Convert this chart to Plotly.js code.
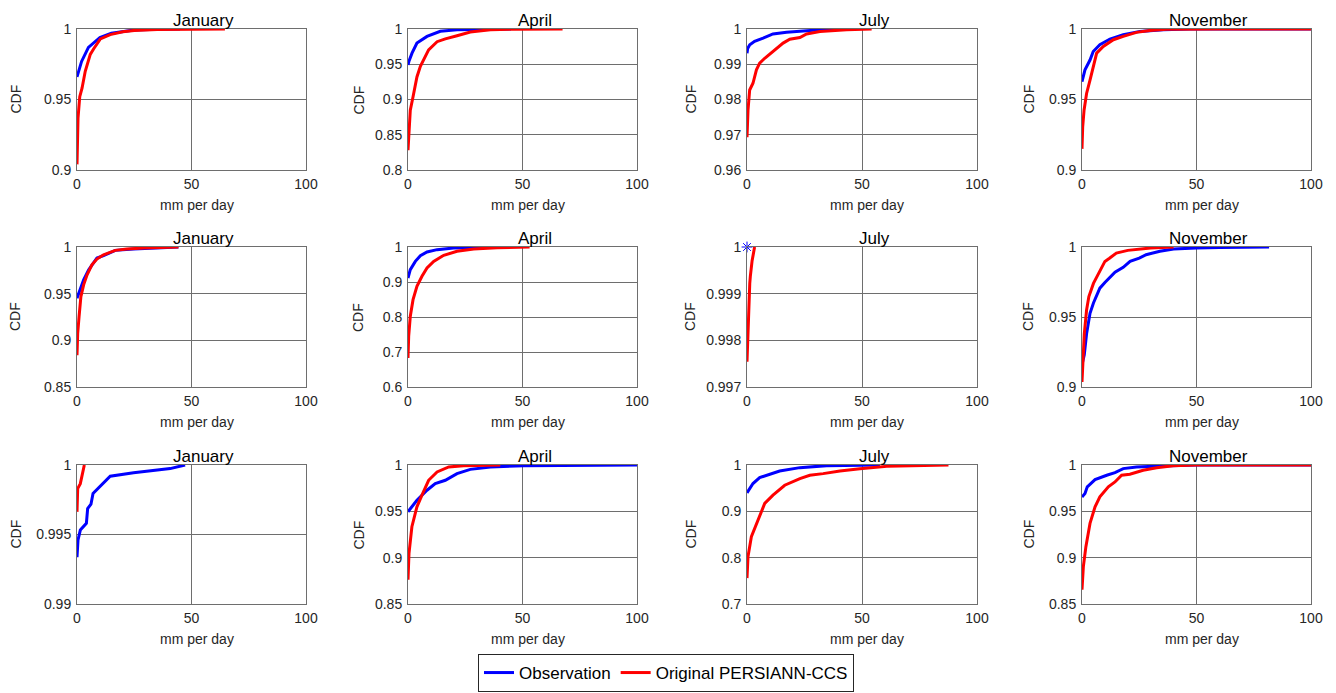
<!DOCTYPE html>
<html>
<head>
<meta charset="utf-8">
<script src="https://cdn.plot.ly/plotly-3.0.1.min.js"></script>
<style>html,body{margin:0;padding:0;background:#fff;}#chart{width:1336px;height:693px;}</style>
</head>
<body>
<div id="chart"></div>
<script>
// ---- data ----
const months = ["January", "April", "July", "November"];
const seriesNames = ["Observation", "Original PERSIANN-CCS"];
const xAxisLabel = "mm per day";
const yAxisLabel = "CDF";
const xTickVals = [0, 50, 100];

// Row 1
const r1JanObsX = [0,0.5,2,5,10,15,20,25,35,45];
const r1JanObsY = [0.966,0.969,0.977,0.987,0.994,0.997,0.998,0.9993,0.9998,1];
const r1JanSatX = [0,0.2,0.45,1.2,2.2,3.6,5.8,7.3,10.2,14.5,20,25,35,50,64.6];
const r1JanSatY = [0.904,0.92,0.937,0.952,0.958,0.97,0.982,0.986,0.993,0.996,0.998,0.999,0.9997,0.9999,1];

const r1AprObsX = [0,0.5,1.75,3.9,8.3,14.1,21.4,30,45];
const r1AprObsY = [0.949,0.955,0.9657,0.98,0.9895,0.9967,0.999,0.9997,1];
const r1AprSatX = [0,0.44,1,2.2,3.9,5.4,6.8,9,12.7,16.3,21.4,27.2,36,46,67.5];
const r1AprSatY = [0.828,0.856,0.885,0.904,0.932,0.947,0.956,0.9705,0.982,0.986,0.9905,0.9957,0.999,0.9998,1];

const r1JulObsX = [0,0.3,1.2,3.3,7,11.3,17.2,25.9,34.6,47];
const r1JulObsY = [0.9931,0.9945,0.9955,0.9965,0.9974,0.9986,0.9991,0.9996,0.9999,1];
const r1JulSatX = [0,0.44,1.16,2.6,4.1,5.5,7.7,11.3,15.7,18.6,23,25.9,31.7,43.3,54.2];
const r1JulSatY = [0.9693,0.977,0.9827,0.9846,0.9884,0.9903,0.9917,0.9936,0.996,0.9971,0.9976,0.9986,0.9993,0.9998,1];

const r1NovObsX = [0,1.3,3.5,4.9,7.8,12.2,18,25.3,35.5,47,100];
const r1NovObsY = [0.9626,0.971,0.978,0.984,0.9888,0.9929,0.996,0.9983,0.9995,1,1];
const r1NovSatX = [0,0.3,0.9,2,3.5,4.9,6.4,9.3,13.7,18,23.8,29.7,36.9,60,100];
const r1NovSatY = [0.915,0.9305,0.9424,0.9543,0.9638,0.9733,0.9829,0.9876,0.9924,0.9948,0.9976,0.999,0.9998,1,1];

// Row 2
const r2JanObsX = [0,1.45,2.9,5.1,8.7,11.6,16.7,24.7,32,44.3];
const r2JanObsY = [0.9451,0.9559,0.9648,0.9756,0.9882,0.9907,0.9964,0.9978,0.9989,1];
const r2JanSatX = [0,0.3,0.9,1.7,2.9,4.4,6.5,8.7,11.6,16.7,21.8,29,44.3];
const r2JanSatY = [0.8841,0.9074,0.9254,0.9469,0.9595,0.9702,0.981,0.9871,0.9917,0.9964,0.9978,0.9989,1];

const r2AprObsX = [0,1,3.2,5.4,8.3,12.7,19.9,31.6,41.8];
const r2AprObsY = [0.9114,0.9352,0.959,0.9752,0.9857,0.9924,0.9971,0.999,1];
const r2AprSatX = [0,0.3,1,2.2,3.9,6.1,8.3,11.2,15.6,21.4,28.7,38.9,53.1];
const r2AprSatY = [0.683,0.745,0.802,0.8495,0.8876,0.9162,0.94,0.959,0.9762,0.9876,0.9943,0.9981,1];

const r2JulObsX = [0];
const r2JulObsY = [1];
const r2JulSatX = [0,0.3,0.6,1.2,1.45,2.2,3.3];
const r2JulSatY = [0.99754,0.9981,0.99843,0.99922,0.99937,0.9997,1];

const r2NovObsX = [0,1,2,3.5,5,6.5,7.8,10,12,14.4,18,21,25,28,34,40,50,60,81.7];
const r2NovObsY = [0.916,0.923,0.938,0.9526,0.96,0.966,0.9706,0.9746,0.978,0.982,0.9855,0.9897,0.992,0.9945,0.997,0.9986,0.9993,0.9997,1];
const r2NovSatX = [0,1,2,3,5,7,10,12,15,20,30,40];
const r2NovSatY = [0.9036,0.938,0.955,0.9646,0.974,0.98,0.9897,0.992,0.9957,0.9976,0.9993,1];

// Row 3
const r3JanObsX = [0,0.44,1.45,4.1,4.65,6.1,7,8.7,14.5,24.7,40.7,47.2];
const r3JanObsY = [0.99337,0.99461,0.99532,0.9958,0.99687,0.99718,0.99795,0.99823,0.99919,0.99945,0.99974,1];
const r3JanSatX = [0,0.3,1.45,3.2];
const r3JanSatY = [0.99663,0.9983,0.99866,1];

const r3AprObsX = [0,3.9,8.3,11.9,16.3,21.4,27.2,36,50.5,100];
const r3AprObsY = [0.9495,0.962,0.9728,0.98,0.9835,0.9907,0.9953,0.9979,0.9993,1];
const r3AprSatX = [0,0.44,1.7,3.9,6.1,9,12.7,17.8,24.3,40.3];
const r3AprSatY = [0.8761,0.9048,0.9334,0.9549,0.9674,0.9835,0.9925,0.9979,0.9993,1];

const r3JulObsX = [0,2.6,5.5,9.9,14.2,23,34.6,57.8];
const r3JulObsY = [0.9399,0.96,0.9728,0.9792,0.9871,0.9943,0.9986,1];
const r3JulSatX = [0,0.44,1.9,4.1,7.7,11.3,16.4,23,27.3,33.1,40.4,49.1,60.8,87.6];
const r3JulSatY = [0.7559,0.8024,0.8454,0.874,0.917,0.9348,0.9563,0.9706,0.9778,0.9814,0.9871,0.9921,0.9971,1];

const r3NovObsX = [0,1.3,2.3,5.7,10.8,14.4,18,23.8,38.4,50,100];
const r3NovObsY = [0.9656,0.9692,0.9764,0.9842,0.9889,0.9918,0.9961,0.9979,0.9993,1,1];
const r3NovSatX = [0,0.6,1.7,3.5,5.7,7.8,11.5,14.4,17.3,20.9,26.7,32.6,39.8,50,100];
const r3NovSatY = [0.8654,0.8905,0.9119,0.937,0.9549,0.9656,0.9764,0.9817,0.9889,0.99,0.9943,0.9971,0.9993,1,1];

// y-axis ranges and tick steps per panel
const yMins = [0.9, 0.8, 0.96, 0.9, 0.85, 0.6, 0.997, 0.9, 0.99, 0.85, 0.7, 0.85];
const yTickSteps = [0.05, 0.05, 0.01, 0.05, 0.05, 0.1, 0.001, 0.05, 0.005, 0.05, 0.1, 0.05];

const panels = [
  [r1JanObsX, r1JanObsY, r1JanSatX, r1JanSatY],
  [r1AprObsX, r1AprObsY, r1AprSatX, r1AprSatY],
  [r1JulObsX, r1JulObsY, r1JulSatX, r1JulSatY],
  [r1NovObsX, r1NovObsY, r1NovSatX, r1NovSatY],
  [r2JanObsX, r2JanObsY, r2JanSatX, r2JanSatY],
  [r2AprObsX, r2AprObsY, r2AprSatX, r2AprSatY],
  [r2JulObsX, r2JulObsY, r2JulSatX, r2JulSatY],
  [r2NovObsX, r2NovObsY, r2NovSatX, r2NovSatY],
  [r3JanObsX, r3JanObsY, r3JanSatX, r3JanSatY],
  [r3AprObsX, r3AprObsY, r3AprSatX, r3AprSatY],
  [r3JulObsX, r3JulObsY, r3JulSatX, r3JulSatY],
  [r3NovObsX, r3NovObsY, r3NovSatX, r3NovSatY]
];

// ---- layout geometry (pixels) ----
const W = 1336, H = 693;
const colPx = [[77, 306], [408, 637], [747, 977], [1082, 1311]];
const rowPx = [[29, 170], [247, 387], [465, 604]];
const cdfLabelX = [15, 358, 690, 1028];
const FONT = "Liberation Sans, Arial, Helvetica, sans-serif";
const TXT = "#262626";
const GRID = "#6e6e6e";
const BLUE = "#0000ff", RED = "#ff0000";

const traces = [];
const layout = {
  width: W, height: H,
  margin: {l: 0, r: 0, t: 0, b: 0, autoexpand: false},
  paper_bgcolor: "#fff", plot_bgcolor: "#fff",
  font: {family: FONT, size: 14, color: TXT},
  showlegend: true,
  legend: {
    orientation: "h", xref: "container", yref: "container",
    x: 666 / W, xanchor: "center", y: 1 - 692 / H, yanchor: "bottom",
    traceorder: "normal",
    bordercolor: "#262626", borderwidth: 1, bgcolor: "#fff",
    font: {family: FONT, size: 17, color: "#000"},
    itemwidth: 30
  },
  annotations: []
};

panels.forEach((p, i) => {
  const r = Math.floor(i / 4), c = i % 4;
  const n = i + 1;
  const xa = "x" + (n === 1 ? "" : n), ya = "y" + (n === 1 ? "" : n);
  const isSingle = p[0].length === 1;
  traces.push({
    type: "scatter", x: p[0], y: p[1], xaxis: xa, yaxis: ya,
    mode: isSingle ? "markers" : "lines",
    name: seriesNames[0], showlegend: false,
    line: {color: BLUE, width: 3},
    marker: {color: BLUE, symbol: "asterisk-open", size: 9, line: {color: BLUE, width: 1}},
    cliponaxis: false, hoverinfo: "x+y"
  });
  traces.push({
    type: "scatter", x: p[2], y: p[3], xaxis: xa, yaxis: ya, mode: "lines",
    name: seriesNames[1], showlegend: false,
    line: {color: RED, width: 3}, hoverinfo: "x+y"
  });
  const xd = [colPx[c][0] / W, colPx[c][1] / W];
  const yd = [1 - rowPx[r][1] / H, 1 - rowPx[r][0] / H];
  const axCommon = {
    showline: true, mirror: true, linecolor: GRID, linewidth: 1,
    showgrid: true, gridcolor: GRID, gridwidth: 1, zeroline: false,
    ticks: "", tickfont: {family: FONT, size: 14, color: TXT}, fixedrange: true,
    automargin: false
  };
  layout["xaxis" + (n === 1 ? "" : n)] = Object.assign({}, axCommon, {
    domain: xd, anchor: ya, range: [0, 100], tickvals: xTickVals,
    ticklabelstandoff: 1
  });
  layout["yaxis" + (n === 1 ? "" : n)] = Object.assign({}, axCommon, {
    domain: yd, anchor: xa, range: [yMins[i], 1], dtick: yTickSteps[i], tick0: yMins[i],
    ticklabelstandoff: 2
  });
  // panel title
  layout.annotations.push({
    text: months[c], xref: "paper", yref: "paper",
    x: (xd[0] + xd[1]) / 2, y: yd[1], xanchor: "center", yanchor: "bottom",
    xshift: 12, yshift: -3, showarrow: false,
    font: {family: FONT, size: 17, color: "#000"}
  });
  // x-axis label
  layout.annotations.push({
    text: xAxisLabel, xref: "paper", yref: "paper",
    x: (xd[0] + xd[1]) / 2, y: 1 - (rowPx[r][1] + 35) / H, xanchor: "center", yanchor: "middle",
    xshift: 5, showarrow: false,
    font: {family: FONT, size: 14, color: TXT}
  });
  // y-axis label
  layout.annotations.push({
    text: yAxisLabel, xref: "paper", yref: "paper", textangle: -90,
    x: cdfLabelX[c] / W, y: (yd[0] + yd[1]) / 2, xanchor: "center", yanchor: "middle",
    showarrow: false,
    font: {family: FONT, size: 14, color: TXT}
  });
});

// legend-only entries
traces.push({type: "scatter", x: [null], y: [null], mode: "lines", name: seriesNames[0],
  line: {color: BLUE, width: 3}, showlegend: true, hoverinfo: "skip"});
traces.push({type: "scatter", x: [null], y: [null], mode: "lines", name: seriesNames[1],
  line: {color: RED, width: 3}, showlegend: true, hoverinfo: "skip"});

Plotly.newPlot("chart", traces, layout, {displayModeBar: false, staticPlot: true});
</script>
</body>
</html>
